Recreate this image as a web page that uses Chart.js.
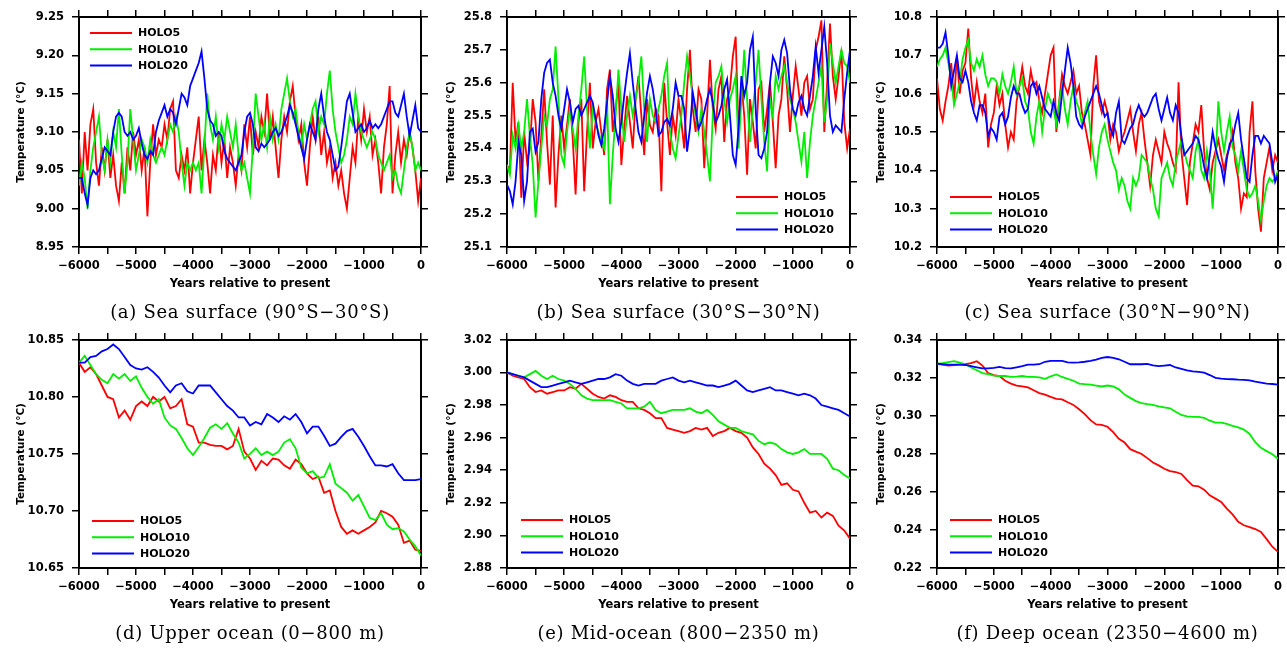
<!DOCTYPE html>
<html>
<head>
<meta charset="utf-8">
<title>HOLO temperature panels</title>
<script src="https://cdn.jsdelivr.net/npm/chart.js@4.4.1/dist/chart.umd.min.js"></script>
<style>
  html, body { margin: 0; padding: 0; background: #fff; }
  #page { position: relative; width: 1287px; height: 648px; overflow: hidden; }
  canvas { position: absolute; }
</style>
</head>
<body>
<div id="page">
  <canvas id="panel-a" width="430" height="325" style="left:0;top:0"></canvas>
  <canvas id="panel-b" width="430" height="325" style="left:430px;top:0"></canvas>
  <canvas id="panel-c" width="427" height="325" style="left:860px;top:0"></canvas>
  <canvas id="panel-d" width="430" height="323" style="left:0;top:325px"></canvas>
  <canvas id="panel-e" width="430" height="323" style="left:430px;top:325px"></canvas>
  <canvas id="panel-f" width="427" height="323" style="left:860px;top:325px"></canvas>
</div>
<script>
// series names and colours
const SERIES_NAMES = ['HOLO5', 'HOLO10', 'HOLO20'];
const LINE_COLORS = ['#ff0000', '#00ee00', '#0000ff'];

const CAPTIONS = [
    '(a) Sea surface (90°S−30°S)',
    '(b) Sea surface (30°S−30°N)',
    '(c) Sea surface (30°N−90°N)',
    '(d) Upper ocean (0−800 m)',
    '(e) Mid-ocean (800−2350 m)',
    '(f) Deep ocean (2350−4600 m)'
];

// sample years: every 50 yr for the surface panels, every 100 yr for the deeper ones
const YEARS_50 = [];
for (let y = -6000; y <= 0; y += 50) YEARS_50.push(y);
const YEARS_100 = [];
for (let y = -6000; y <= 0; y += 100) YEARS_100.push(y);

// (a) Sea surface 90S-30S
const A_HOLO5 = [
    9.09,9.02,9.10,9.05,9.11,9.13,9.06,9.03,9.08,9.05,
    9.09,9.04,9.07,9.03,9.01,9.06,9.02,9.08,9.05,9.10,
    9.07,9.09,9.05,9.08,8.99,9.06,9.11,9.07,9.09,9.08,
    9.11,9.09,9.13,9.14,9.05,9.04,9.07,9.05,9.08,9.02,
    9.06,9.09,9.12,9.05,9.09,9.06,9.02,9.07,9.05,9.10,
    9.06,9.09,9.04,9.08,9.06,9.03,9.07,9.05,9.11,9.08,
    9.12,9.07,9.10,9.08,9.12,9.10,9.15,9.09,9.12,9.08,
    9.04,9.09,9.12,9.10,9.14,9.16,9.12,9.09,9.11,9.06,
    9.03,9.08,9.12,9.09,9.12,9.07,9.10,9.06,9.08,9.04,
    9.06,9.03,9.05,9.02,9.00,9.04,9.08,9.06,9.12,9.09,
    9.13,9.10,9.12,9.07,9.09,9.06,9.02,9.08,9.11,9.16,
    9.02,9.07,9.10,9.06,9.09,9.07,9.10,9.08,9.05,9.01,
    9.04
];
const A_HOLO10 = [
    9.03,9.06,9.04,9.00,9.05,9.08,9.10,9.12,9.07,9.05,
    9.09,9.06,9.10,9.08,9.13,9.07,9.02,9.06,9.13,9.09,
    9.05,9.07,9.09,9.08,9.06,9.09,9.07,9.06,9.07,9.08,
    9.07,9.09,9.11,9.10,9.12,9.10,9.06,9.03,9.06,9.05,
    9.06,9.05,9.06,9.02,9.08,9.15,9.11,9.09,9.12,9.08,
    9.11,9.09,9.12,9.10,9.08,9.11,9.07,9.05,9.06,9.04,
    9.02,9.08,9.15,9.12,9.09,9.11,9.08,9.12,9.09,9.11,
    9.09,9.13,9.15,9.17,9.14,9.12,9.13,9.10,9.08,9.11,
    9.09,9.11,9.13,9.14,9.10,9.12,9.11,9.15,9.18,9.13,
    9.10,9.08,9.06,9.07,9.09,9.12,9.11,9.15,9.12,9.10,
    9.09,9.08,9.09,9.10,9.09,9.07,9.06,9.05,9.06,9.07,
    9.04,9.05,9.03,9.02,9.05,9.08,9.10,9.08,9.05,9.06,
    9.05
];
const A_HOLO20 = [
    9.04,9.04,9.02,9.005,9.04,9.05,9.045,9.05,9.065,9.08,
    9.075,9.07,9.10,9.12,9.125,9.12,9.10,9.095,9.10,9.09,
    9.095,9.105,9.085,9.07,9.065,9.075,9.07,9.10,9.115,9.125,
    9.135,9.12,9.13,9.125,9.11,9.13,9.15,9.145,9.135,9.16,
    9.17,9.18,9.19,9.205,9.17,9.13,9.115,9.11,9.095,9.10,
    9.095,9.075,9.065,9.06,9.055,9.05,9.06,9.07,9.10,9.12,
    9.125,9.11,9.08,9.075,9.085,9.08,9.085,9.09,9.10,9.105,
    9.095,9.10,9.11,9.12,9.135,9.125,9.11,9.095,9.08,9.065,
    9.09,9.11,9.10,9.09,9.13,9.15,9.12,9.10,9.09,9.07,
    9.05,9.055,9.08,9.11,9.14,9.15,9.125,9.10,9.105,9.11,
    9.10,9.105,9.115,9.105,9.11,9.105,9.11,9.12,9.13,9.14,
    9.14,9.125,9.12,9.135,9.15,9.12,9.095,9.115,9.135,9.105,
    9.10
];

// (b) Sea surface 30S-30N
const B_HOLO5 = [
    25.35,25.33,25.60,25.42,25.48,25.25,25.45,25.36,25.40,25.55,
    25.48,25.30,25.44,25.58,25.42,25.29,25.50,25.22,25.38,25.50,
    25.40,25.47,25.55,25.43,25.26,25.48,25.55,25.27,25.45,25.60,
    25.40,25.48,25.52,25.45,25.38,25.58,25.64,25.45,25.52,25.60,
    25.35,25.46,25.56,25.48,25.40,25.55,25.62,25.50,25.38,25.55,
    25.47,25.45,25.52,25.50,25.27,25.60,25.48,25.38,25.50,25.44,
    25.55,25.48,25.40,25.58,25.70,25.52,25.45,25.58,25.55,25.34,
    25.50,25.67,25.52,25.46,25.58,25.62,25.42,25.55,25.58,25.68,
    25.74,25.45,25.60,25.50,25.32,25.55,25.48,25.40,25.58,25.60,
    25.45,25.52,25.60,25.48,25.34,25.50,25.55,25.68,25.58,25.45,
    25.56,25.65,25.58,25.50,25.60,25.62,25.52,25.55,25.70,25.74,
    25.79,25.45,25.60,25.78,25.62,25.55,25.62,25.70,25.48,25.40,
    25.46
];
const B_HOLO10 = [
    25.35,25.32,25.44,25.40,25.47,25.40,25.45,25.55,25.44,25.35,
    25.19,25.30,25.40,25.50,25.47,25.55,25.58,25.71,25.55,25.38,
    25.35,25.45,25.52,25.46,25.40,25.50,25.58,25.68,25.52,25.40,
    25.52,25.48,25.45,25.42,25.40,25.55,25.23,25.38,25.50,25.64,
    25.52,25.42,25.50,25.56,25.50,25.55,25.60,25.68,25.52,25.42,
    25.55,25.50,25.48,25.52,25.56,25.62,25.66,25.45,25.40,25.37,
    25.44,25.50,25.60,25.68,25.62,25.56,25.50,25.45,25.52,25.45,
    25.38,25.30,25.50,25.60,25.62,25.65,25.55,25.48,25.55,25.58,
    25.62,25.40,25.55,25.70,25.55,25.42,25.52,25.60,25.70,25.55,
    25.42,25.33,25.55,25.50,25.62,25.58,25.62,25.65,25.60,25.55,
    25.52,25.48,25.42,25.36,25.45,25.31,25.42,25.50,25.55,25.60,
    25.65,25.48,25.55,25.72,25.66,25.60,25.65,25.70,25.66,25.65,
    25.60
];
const B_HOLO20 = [
    25.29,25.27,25.23,25.30,25.42,25.38,25.24,25.30,25.45,25.46,
    25.39,25.42,25.55,25.63,25.66,25.67,25.60,25.56,25.50,25.46,
    25.52,25.58,25.54,25.48,25.52,25.53,25.50,25.52,25.54,25.56,
    25.54,25.49,25.44,25.41,25.46,25.54,25.62,25.56,25.46,25.42,
    25.48,25.56,25.63,25.69,25.60,25.52,25.45,25.42,25.50,25.57,
    25.62,25.58,25.52,25.44,25.45,25.48,25.49,25.47,25.52,25.60,
    25.56,25.56,25.52,25.39,25.46,25.57,25.52,25.46,25.48,25.51,
    25.55,25.58,25.54,25.48,25.50,25.53,25.58,25.61,25.50,25.38,
    25.35,25.46,25.62,25.56,25.60,25.70,25.74,25.52,25.38,25.37,
    25.40,25.45,25.60,25.68,25.66,25.62,25.70,25.73,25.69,25.58,
    25.52,25.50,25.54,25.56,25.52,25.50,25.56,25.62,25.71,25.63,
    25.70,25.77,25.66,25.50,25.45,25.47,25.46,25.45,25.55,25.63,
    25.70
];

// (c) Sea surface 30N-90N
const C_HOLO5 = [
    10.64,10.56,10.53,10.58,10.62,10.68,10.58,10.70,10.60,10.66,
    10.68,10.77,10.64,10.57,10.63,10.58,10.55,10.60,10.46,10.52,
    10.55,10.62,10.57,10.60,10.52,10.46,10.50,10.48,10.58,10.62,
    10.67,10.62,10.60,10.66,10.62,10.63,10.58,10.55,10.60,10.65,
    10.70,10.72,10.50,10.58,10.65,10.62,10.60,10.63,10.66,10.60,
    10.62,10.55,10.52,10.48,10.44,10.62,10.70,10.58,10.55,10.58,
    10.55,10.48,10.52,10.50,10.45,10.48,10.50,10.53,10.56,10.50,
    10.45,10.52,10.55,10.48,10.42,10.36,10.44,10.48,10.45,10.42,
    10.50,10.47,10.45,10.42,10.40,10.63,10.45,10.38,10.31,10.42,
    10.47,10.52,10.50,10.57,10.45,10.38,10.35,10.42,10.45,10.48,
    10.44,10.40,10.44,10.46,10.50,10.42,10.38,10.30,10.34,10.33,
    10.50,10.58,10.40,10.30,10.24,10.38,10.42,10.46,10.40,10.44,
    10.42
];
const C_HOLO10 = [
    10.67,10.69,10.70,10.72,10.68,10.64,10.57,10.60,10.63,10.69,
    10.72,10.74,10.68,10.66,10.69,10.67,10.70,10.65,10.62,10.64,
    10.64,10.63,10.60,10.65,10.62,10.60,10.63,10.67,10.60,10.62,
    10.64,10.58,10.56,10.50,10.47,10.54,10.58,10.50,10.56,10.60,
    10.58,10.56,10.52,10.58,10.62,10.56,10.52,10.58,10.62,10.58,
    10.56,10.52,10.55,10.58,10.50,10.44,10.39,10.46,10.50,10.52,
    10.48,10.45,10.42,10.40,10.35,10.38,10.36,10.32,10.30,10.38,
    10.36,10.38,10.44,10.43,10.42,10.38,10.35,10.30,10.28,10.38,
    10.40,10.42,10.38,10.36,10.42,10.45,10.48,10.45,10.42,10.40,
    10.38,10.45,10.48,10.40,10.38,10.45,10.40,10.30,10.42,10.58,
    10.50,10.45,10.50,10.54,10.46,10.44,10.40,10.45,10.40,10.35,
    10.33,10.34,10.36,10.32,10.27,10.32,10.36,10.38,10.37,10.38,
    10.40
];
const C_HOLO20 = [
    10.72,10.72,10.73,10.76,10.70,10.62,10.66,10.70,10.64,10.63,
    10.66,10.63,10.58,10.55,10.53,10.57,10.57,10.55,10.49,10.51,
    10.50,10.48,10.54,10.55,10.52,10.54,10.59,10.62,10.60,10.60,
    10.57,10.55,10.56,10.62,10.63,10.60,10.62,10.59,10.56,10.55,
    10.54,10.58,10.55,10.53,10.60,10.66,10.72,10.68,10.62,10.54,
    10.52,10.51,10.54,10.56,10.58,10.60,10.62,10.60,10.57,10.54,
    10.55,10.51,10.49,10.55,10.58,10.48,10.47,10.49,10.51,10.52,
    10.55,10.57,10.55,10.54,10.55,10.57,10.59,10.60,10.56,10.53,
    10.56,10.59,10.55,10.53,10.57,10.55,10.49,10.44,10.45,10.46,
    10.47,10.49,10.48,10.45,10.41,10.38,10.44,10.50,10.46,10.43,
    10.41,10.37,10.43,10.47,10.48,10.52,10.55,10.48,10.43,10.38,
    10.37,10.44,10.49,10.49,10.47,10.49,10.48,10.47,10.42,10.37,
    10.39
];

// (d) Upper ocean 0-800 m
const D_HOLO5 = [
    10.830,10.822,10.826,10.820,10.810,10.800,10.798,10.782,10.788,10.780,
    10.792,10.796,10.792,10.800,10.796,10.800,10.790,10.792,10.798,10.776,
    10.774,10.760,10.760,10.758,10.757,10.757,10.754,10.757,10.772,10.752,
    10.746,10.736,10.744,10.740,10.746,10.745,10.740,10.737,10.745,10.741,
    10.733,10.728,10.730,10.716,10.718,10.700,10.686,10.680,10.683,10.680,
    10.683,10.686,10.690,10.700,10.698,10.695,10.688,10.672,10.674,10.666,
    10.665
];
const D_HOLO10 = [
    10.830,10.836,10.828,10.820,10.815,10.812,10.820,10.816,10.820,10.814,
    10.818,10.808,10.800,10.794,10.798,10.782,10.775,10.772,10.764,10.755,
    10.749,10.756,10.764,10.773,10.776,10.772,10.777,10.768,10.760,10.746,
    10.750,10.755,10.749,10.752,10.749,10.752,10.760,10.763,10.755,10.738,
    10.733,10.735,10.729,10.730,10.741,10.724,10.720,10.716,10.709,10.714,
    10.704,10.694,10.692,10.698,10.688,10.684,10.685,10.682,10.675,10.669,
    10.661
];
const D_HOLO20 = [
    10.830,10.830,10.835,10.836,10.840,10.842,10.846,10.842,10.835,10.828,
    10.825,10.824,10.826,10.822,10.817,10.810,10.804,10.810,10.812,10.805,
    10.803,10.810,10.810,10.810,10.804,10.798,10.792,10.788,10.782,10.782,
    10.775,10.778,10.776,10.785,10.782,10.778,10.783,10.780,10.785,10.778,
    10.768,10.774,10.774,10.766,10.757,10.759,10.765,10.770,10.772,10.765,
    10.757,10.748,10.740,10.740,10.739,10.741,10.733,10.727,10.727,10.727,
    10.728
];

// (e) Mid-ocean 800-2350 m
const E_HOLO5 = [
    3.000,2.998,2.997,2.996,2.991,2.988,2.989,2.987,2.988,2.989,
    2.989,2.991,2.990,2.993,2.990,2.987,2.985,2.984,2.986,2.985,
    2.983,2.982,2.982,2.978,2.977,2.975,2.972,2.972,2.966,2.965,
    2.964,2.963,2.964,2.966,2.965,2.966,2.961,2.963,2.964,2.966,
    2.964,2.963,2.960,2.954,2.950,2.944,2.941,2.937,2.931,2.932,
    2.928,2.927,2.920,2.914,2.915,2.911,2.914,2.912,2.906,2.903,
    2.898
];
const E_HOLO10 = [
    3.000,2.999,2.998,2.997,2.999,3.001,2.998,2.996,2.998,2.996,
    2.995,2.993,2.990,2.986,2.984,2.983,2.983,2.983,2.983,2.982,
    2.981,2.978,2.978,2.978,2.979,2.982,2.977,2.975,2.976,2.977,
    2.977,2.977,2.978,2.976,2.975,2.977,2.974,2.970,2.968,2.966,
    2.966,2.964,2.963,2.962,2.958,2.956,2.957,2.956,2.953,2.951,
    2.950,2.951,2.953,2.950,2.950,2.950,2.947,2.941,2.940,2.937,
    2.935
];
const E_HOLO20 = [
    3.000,2.999,2.998,2.997,2.995,2.993,2.991,2.991,2.992,2.993,
    2.994,2.995,2.994,2.993,2.994,2.995,2.996,2.996,2.997,2.999,
    2.998,2.995,2.993,2.992,2.993,2.993,2.993,2.995,2.996,2.997,
    2.995,2.994,2.995,2.994,2.993,2.992,2.992,2.991,2.992,2.993,
    2.995,2.992,2.989,2.988,2.989,2.990,2.991,2.989,2.989,2.988,
    2.987,2.986,2.987,2.986,2.984,2.980,2.979,2.978,2.977,2.975,
    2.973
];

// (f) Deep ocean 2350-4600 m
const F_HOLO5 = [
    0.3274,0.3270,0.3265,0.3268,0.3270,0.3272,0.3278,0.3288,0.3265,0.3225,
    0.3215,0.3210,0.3185,0.3170,0.3160,0.3155,0.3150,0.3135,0.3120,0.3112,
    0.3100,0.3090,0.3087,0.3072,0.3058,0.3035,0.3010,0.2978,0.2955,0.2953,
    0.2943,0.2915,0.2880,0.2860,0.2825,0.2812,0.2800,0.2778,0.2755,0.2740,
    0.2722,0.2710,0.2705,0.2695,0.2662,0.2633,0.2630,0.2612,0.2582,0.2565,
    0.2548,0.2512,0.2482,0.2443,0.2425,0.2415,0.2405,0.2390,0.2352,0.2312,
    0.2285
];
const F_HOLO10 = [
    0.3275,0.3278,0.3283,0.3288,0.3280,0.3272,0.3255,0.3240,0.3225,0.3220,
    0.3212,0.3210,0.3210,0.3205,0.3207,0.3210,0.3205,0.3205,0.3203,0.3195,
    0.3208,0.3218,0.3205,0.3195,0.3185,0.3170,0.3167,0.3165,0.3160,0.3155,
    0.3160,0.3155,0.3140,0.3112,0.3095,0.3078,0.3068,0.3062,0.3058,0.3050,
    0.3045,0.3040,0.3022,0.3005,0.2998,0.2995,0.2995,0.2990,0.2975,0.2965,
    0.2965,0.2958,0.2948,0.2940,0.2928,0.2905,0.2862,0.2832,0.2815,0.2798,
    0.2775
];
const F_HOLO20 = [
    0.3275,0.3272,0.3270,0.3270,0.3270,0.3268,0.3262,0.3256,0.3250,0.3250,
    0.3253,0.3258,0.3252,0.3250,0.3256,0.3262,0.3270,0.3270,0.3272,0.3285,
    0.3290,0.3290,0.3290,0.3282,0.3280,0.3282,0.3285,0.3290,0.3296,0.3305,
    0.3310,0.3306,0.3298,0.3285,0.3272,0.3272,0.3272,0.3274,0.3266,0.3262,
    0.3265,0.3268,0.3255,0.3248,0.3240,0.3234,0.3232,0.3228,0.3215,0.3200,
    0.3196,0.3194,0.3193,0.3191,0.3190,0.3187,0.3180,0.3175,0.3170,0.3168,
    0.3165
];

Chart.defaults.font.family = '"DejaVu Sans", sans-serif';
Chart.defaults.color = '#000';

const X_AXIS_HEIGHT = 46;

// legend inside the plot + caption under the panel
const panelDecor = {
    id: 'panelDecor',
    afterDraw(chart, args, opts) {
        const ctx = chart.ctx;
        const area = chart.chartArea;
        ctx.save();
        ctx.font = 'bold 11px "DejaVu Sans"';
        ctx.textAlign = 'left';
        ctx.textBaseline = 'middle';
        chart.data.datasets.forEach((ds, i) => {
            const x0 = area.left + opts.legendX;
            const y0 = area.top + opts.legendY + i * 16.3;
            ctx.strokeStyle = ds.borderColor;
            ctx.lineWidth = 2;
            ctx.beginPath();
            ctx.moveTo(x0, y0);
            ctx.lineTo(x0 + 42, y0);
            ctx.stroke();
            ctx.fillStyle = '#000';
            ctx.fillText(ds.label, x0 + 48, y0 + 0.5);
        });

        ctx.font = '18px "DejaVu Serif"';
        ctx.letterSpacing = '0.7px';
        ctx.textAlign = 'center';
        ctx.fillStyle = '#000';
        ctx.fillText(opts.caption, (area.left + area.right) / 2, area.bottom + 66);
        ctx.restore();
    }
};

function fmtYear(v) {
    if (v === 0) return '0';
    return '−' + Math.abs(v);
}

function frameScale(extra) {
    return Object.assign({
        grid: { drawOnChartArea: false, drawTicks: true, tickLength: 7, color: '#000', lineWidth: 1.5 },
        border: { display: true, color: '#000', width: 2 }
    }, extra);
}

function makePanel(p) {
    const canvas = document.getElementById(p.id);
    const bottomPad = canvas.height - p.plotBottom - X_AXIS_HEIGHT;
    const tickY = { stepSize: p.yStep, autoSkip: false };

    new Chart(canvas, {
        type: 'line',
        data: {
            datasets: SERIES_NAMES.map((name, k) => ({
                label: name,
                data: p.years.map((x, i) => ({ x: x, y: p.series[k][i] })),
                borderColor: LINE_COLORS[k],
                borderWidth: 1.8,
                pointRadius: 0,
                tension: 0,
                order: 2 - k
            }))
        },
        options: {
            responsive: false,
            animation: false,
            events: [],
            layout: { padding: { left: 0, right: 0, top: 0, bottom: bottomPad } },
            plugins: {
                legend: { display: false },
                tooltip: { enabled: false },
                panelDecor: { legendX: p.legendX, legendY: p.legendY, caption: p.caption }
            },
            scales: {
                x: frameScale({
                    type: 'linear', position: 'bottom', min: -6000, max: 0,
                    afterFit: s => { s.height = X_AXIS_HEIGHT; },
                    ticks: {
                        stepSize: 500, autoSkip: false, maxRotation: 0, minRotation: 0, padding: 5,
                        font: { size: 11.5, weight: 'bold' },
                        callback: v => (v % 1000 === 0 ? fmtYear(v) : '')
                    },
                    title: {
                        display: true, text: 'Years relative to present',
                        font: { size: 11.5, weight: 'bold' }, padding: { top: 0, bottom: 2 }
                    }
                }),
                xTop: frameScale({
                    type: 'linear', axis: 'x', position: 'top', min: -6000, max: 0,
                    afterFit: s => { s.height = p.plotTop; },
                    ticks: { display: false, stepSize: 500, autoSkip: false, maxRotation: 0, minRotation: 0 }
                }),
                y: frameScale({
                    type: 'linear', position: 'left', min: p.yMin, max: p.yMax,
                    afterFit: s => { s.width = p.plotLeft; },
                    ticks: Object.assign({ padding: 8, font: { size: 11.5, weight: 'bold' },
                        callback: v => v.toFixed(p.digits) }, tickY),
                    title: {
                        display: true, text: 'Temperature (°C)',
                        font: { size: 10.5, weight: 'bold' }, padding: { top: 15, bottom: 0 }
                    }
                }),
                yRight: frameScale({
                    type: 'linear', axis: 'y', position: 'right', min: p.yMin, max: p.yMax,
                    afterFit: s => { s.width = p.plotRight; },
                    ticks: Object.assign({ display: false }, tickY)
                })
            }
        },
        plugins: [panelDecor]
    });
}

const panels = [
    { id: 'panel-a', years: YEARS_50, series: [A_HOLO5, A_HOLO10, A_HOLO20],
      yMin: 8.95, yMax: 9.25, yStep: 0.05, digits: 2,
      plotLeft: 79, plotRight: 9, plotTop: 17, plotBottom: 247,
      legendX: 11, legendY: 16, caption: CAPTIONS[0] },
    { id: 'panel-b', years: YEARS_50, series: [B_HOLO5, B_HOLO10, B_HOLO20],
      yMin: 25.1, yMax: 25.8, yStep: 0.1, digits: 1,
      plotLeft: 77, plotRight: 10, plotTop: 17, plotBottom: 247,
      legendX: 229, legendY: 180, caption: CAPTIONS[1] },
    { id: 'panel-c', years: YEARS_50, series: [C_HOLO5, C_HOLO10, C_HOLO20],
      yMin: 10.2, yMax: 10.8, yStep: 0.1, digits: 1,
      plotLeft: 77, plotRight: 9, plotTop: 17, plotBottom: 247,
      legendX: 13, legendY: 180, caption: CAPTIONS[2] },
    { id: 'panel-d', years: YEARS_100, series: [D_HOLO5, D_HOLO10, D_HOLO20],
      yMin: 10.65, yMax: 10.85, yStep: 0.05, digits: 2,
      plotLeft: 79, plotRight: 9, plotTop: 14, plotBottom: 243,
      legendX: 13, legendY: 181, caption: CAPTIONS[3] },
    { id: 'panel-e', years: YEARS_100, series: [E_HOLO5, E_HOLO10, E_HOLO20],
      yMin: 2.88, yMax: 3.02, yStep: 0.02, digits: 2,
      plotLeft: 77, plotRight: 10, plotTop: 14, plotBottom: 243,
      legendX: 14, legendY: 180, caption: CAPTIONS[4] },
    { id: 'panel-f', years: YEARS_100, series: [F_HOLO5, F_HOLO10, F_HOLO20],
      yMin: 0.22, yMax: 0.34, yStep: 0.02, digits: 2,
      plotLeft: 77, plotRight: 9, plotTop: 14, plotBottom: 243,
      legendX: 13, legendY: 180, caption: CAPTIONS[5] }
];

panels.forEach(makePanel);
</script>
</body>
</html>
